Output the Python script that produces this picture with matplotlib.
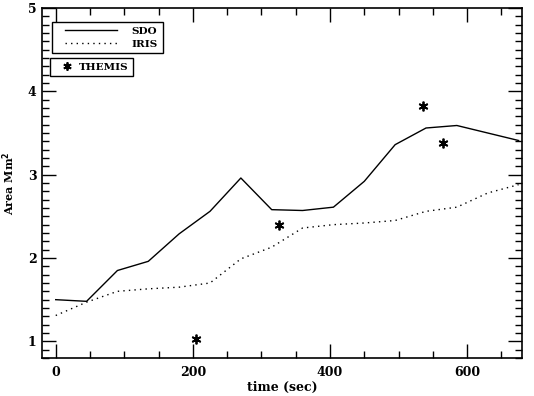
import numpy as np
import matplotlib
matplotlib.use("Agg")
import matplotlib.pyplot as plt
from matplotlib.ticker import MultipleLocator
from matplotlib.legend_handler import HandlerLine2D

# data
t = [0, 45, 90, 135, 180, 225, 270, 315, 360, 405, 450, 495, 540, 585, 630, 675]
sdo = [1.50, 1.48, 1.85, 1.96, 2.29, 2.56, 2.96, 2.58, 2.57, 2.61, 2.92, 3.36, 3.56, 3.59, 3.50, 3.41]
iris = [1.31, 1.47, 1.60, 1.63, 1.65, 1.70, 1.99, 2.13, 2.36, 2.40, 2.42, 2.45, 2.56, 2.61, 2.78, 2.88]
themis_t = [205, 325, 535, 565]
themis = [1.03, 2.40, 3.82, 3.38]

plt.rcParams['font.family'] = 'DejaVu Serif'
plt.rcParams['font.weight'] = 'bold'

fig = plt.figure(figsize=(5.34, 3.96), dpi=100)
ax = fig.add_axes([42/534, 38/396, 480/534, 350/396])

l1, = ax.plot(t, sdo, color='black', lw=1.0)
l2, = ax.plot(t, iris, color='black', lw=1.0, ls=(0, (1, 3)))
s, = ax.plot(themis_t, themis, ls='none', marker=(6, 2, 0), ms=7, mew=1.3, color='black')

ax.set_xlim(-20, 680)
ax.set_ylim(0.8, 5.0)
ax.xaxis.set_major_locator(MultipleLocator(200))
ax.xaxis.set_minor_locator(MultipleLocator(50))
ax.yaxis.set_major_locator(MultipleLocator(1))
ax.yaxis.set_minor_locator(MultipleLocator(0.1))
ax.tick_params(which='both', direction='in', top=True, right=True, labelsize=9, width=1)
ax.tick_params(which='major', length=10, pad=6)
ax.tick_params(axis='y', which='major', pad=4)
ax.tick_params(which='minor', length=5)
for sp in ax.spines.values():
    sp.set_linewidth(1.2)

ax.set_xlabel('time (sec)', fontsize=9, fontweight='bold', labelpad=1)
ax.set_ylabel('Area Mm$^\\mathbf{2}$', fontsize=8, fontweight='bold', labelpad=8)

hm = {l1: HandlerLine2D(xpad=0.8), l2: HandlerLine2D(xpad=0.8)}
leg1 = ax.legend([l1, l2], ['SDO', 'IRIS'], loc='upper left', bbox_to_anchor=(0.020, 0.961),
                 borderaxespad=0, fancybox=False, framealpha=1, edgecolor='black',
                 fontsize=7.5, handlelength=5.8, handletextpad=1.45, borderpad=0.45,
                 labelspacing=0.35, handler_map=hm)
leg1.get_frame().set_linewidth(1.0)
ax.add_artist(leg1)
leg2 = ax.legend([s], ['THEMIS'], loc='upper left', bbox_to_anchor=(0.0167, 0.858),
                 borderaxespad=0, fancybox=False, framealpha=1, edgecolor='black',
                 fontsize=7.5, handlelength=2.3, handletextpad=0.05, borderpad=0.45,
                 markerscale=0.85)
leg2.get_frame().set_linewidth(1.0)

fig.savefig('out.png', dpi=100)
